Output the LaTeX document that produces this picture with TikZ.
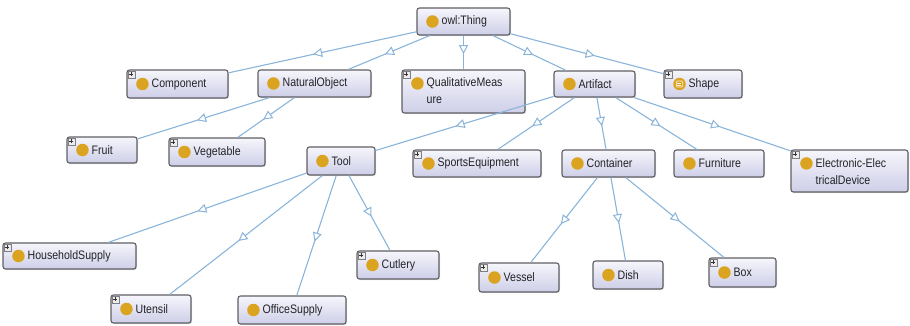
\documentclass[tikz,border=0pt]{standalone}
\usepackage{fontspec}
\setmainfont{Liberation Sans}[FakeStretch=0.86]
\usetikzlibrary{arrows.meta,decorations.markings,shadows,calc}

\definecolor{edgecol}{RGB}{138,180,218}
\definecolor{boxline}{RGB}{95,95,100}
\definecolor{boxtop}{RGB}{246,246,252}
\definecolor{boxbot}{RGB}{206,206,232}
\definecolor{dotcol}{RGB}{218,163,32}
\definecolor{txtcol}{RGB}{35,35,40}

\tikzset{
  clsbox/.style={draw=boxline, line width=1.1pt, rounded corners=2.5pt,
    top color=boxtop, bottom color=boxbot, inner sep=0pt,
    drop shadow={opacity=0.25, shadow xshift=1pt, shadow yshift=-1.2pt}},
  clsdot/.style={circle, fill=dotcol, minimum size=12.5pt, inner sep=0pt},
  clstext/.style={text=txtcol, inner sep=0pt, anchor=west,
    font=\fontsize{12.3}{14}\selectfont},
  plusbox/.style={draw=boxline!80, fill=white!85!gray, line width=0.5pt,
    minimum size=7pt, inner sep=0pt},
  plusmark/.style={draw=black!80, line width=0.7pt},
  isa/.style={draw=edgecol, line width=1.1pt, postaction={decorate},
    decoration={markings, mark=at position 0.55 with
      {\arrow[edgecol, line width=1pt]{Triangle[length=9pt, width=9pt, fill=white]}}}}
}

% one-line class box: name, centre x, centre y, width, height, label
\newcommand\owlcls[6]{%
  \node[clsbox, minimum width=#4pt, minimum height=#5pt] (#1) at (#2,#3) {};
  \node[clsdot] (#1-dot) at ($(#1.west)+(16,0)$) {};
  \node[clstext] (#1-txt) at ($(#1.west)+(25,0)$) {#6};
}
% two-line class box: name, centre x, centre y, width, height, line 1, line 2
\newcommand\owlclstwo[7]{%
  \node[clsbox, minimum width=#4pt, minimum height=#5pt] (#1) at (#2,#3) {};
  \node[clsdot] (#1-dot) at ($(#1.north west)+(16,14)$) {};
  \node[clstext] (#1-txt) at ($(#1.north west)+(25,14)$) {#6};
  \node[clstext] (#1-txtb) at ($(#1.north west)+(25,31)$) {#7};
}
% expand marker in the top-left corner
\newcommand\owlplus[1]{%
  \node[plusbox] (#1-plus) at ($(#1.north west)+(5,5)$) {};
  \draw[plusmark] ($(#1-plus.center)+(-2,0)$) -- ($(#1-plus.center)+(2,0)$);
  \draw[plusmark] ($(#1-plus.center)+(0,-2)$) -- ($(#1-plus.center)+(0,2)$);
}

\begin{document}
\begin{tikzpicture}[x=1pt, y=-1pt]
\useasboundingbox (0,0) rectangle (910,325);

% top level
\owlcls{thing}{463.5}{21.5}{93}{27}{owl:Thing}

% second level
\owlcls{component}{177.5}{84}{101}{28}{Component}
\owlcls{natural}{314.5}{83.5}{113}{27}{NaturalObject}
\owlclstwo{qualit}{463.5}{91.5}{123}{43}{QualitativeMeas}{ure}
\owlcls{artifact}{594.5}{84}{81}{26}{Artifact}
\owlcls{shape}{703}{84}{78}{28}{Shape}

% third level
\owlcls{fruit}{102}{150}{70}{26}{Fruit}
\owlcls{vegetable}{217}{152}{96}{28}{Vegetable}
\owlcls{tool}{341}{161}{68}{28}{Tool}
\owlcls{sports}{477}{163.5}{128}{27}{SportsEquipment}
\owlcls{container}{608.5}{163.5}{93}{27}{Container}
\owlcls{furniture}{719}{163.5}{90}{27}{Furniture}
\owlclstwo{electro}{849.5}{171}{117}{42}{Electronic-Elec}{tricalDevice}

% fourth level
\owlcls{household}{69.5}{256}{133}{26}{HouseholdSupply}
\owlcls{utensil}{151}{309}{80}{28}{Utensil}
\owlcls{office}{292}{310}{108}{28}{OfficeSupply}
\owlcls{cutlery}{398}{265}{82}{28}{Cutlery}
\owlcls{vessel}{519}{277.5}{80}{29}{Vessel}
\owlcls{dish}{628}{275}{70}{28}{Dish}
\owlcls{box}{742.5}{272.5}{67}{29}{Box}

% expandable classes
\foreach \n in {component,qualit,shape,fruit,vegetable,sports,electro,
                household,utensil,cutlery,vessel,box}{\owlplus{\n}}

% equivalent-class mark on Shape
\draw[white!85!dotcol, line width=0.7pt, rounded corners=1pt]
  ($(shape-dot.center)+(-3.2,-3)$) rectangle ($(shape-dot.center)+(3.2,3)$);
\draw[white!85!dotcol, line width=0.7pt]
  ($(shape-dot.center)+(-2,-1)$) -- ($(shape-dot.center)+(2,-1)$)
  ($(shape-dot.center)+(-2,1)$) -- ($(shape-dot.center)+(2,1)$);

% subclass links
\foreach \c in {component,natural,qualit,artifact,shape}{\draw[isa] (thing) -- (\c);}
\foreach \c in {fruit,vegetable}{\draw[isa] (natural) -- (\c);}
\foreach \c in {tool,sports,container,furniture,electro}{\draw[isa] (artifact) -- (\c);}
\foreach \c in {household,utensil,office,cutlery}{\draw[isa] (tool) -- (\c);}
\foreach \c in {vessel,dish,box}{\draw[isa] (container) -- (\c);}
\end{tikzpicture}
\end{document}
